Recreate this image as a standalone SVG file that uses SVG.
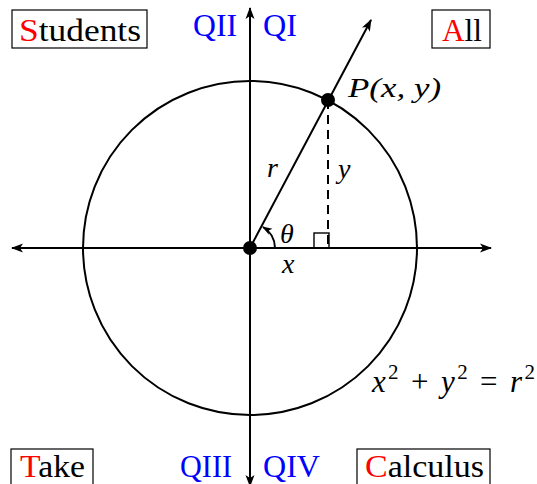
<svg xmlns="http://www.w3.org/2000/svg" width="537" height="484" viewBox="0 0 537 484">
<style>
.ax{stroke:#000;stroke-width:2;fill:none}
.t{font-family:"Liberation Serif","DejaVu Serif",serif;font-size:32px;fill:#000}
.m{font-style:italic;font-size:28px}
.q{fill:#0000ff}
.red{fill:#ff0000}
.box{fill:#fff;stroke:#000;stroke-width:1.2}
</style>
<defs>
<marker id="arr" viewBox="0 0 12 10" refX="11" refY="5" markerWidth="12" markerHeight="10" markerUnits="userSpaceOnUse" orient="auto">
<path d="M0,0.5 L12,5 L0,9.5 L3,5 Z" fill="#000"/>
</marker>
<marker id="arrs" viewBox="0 0 10 8" refX="9" refY="4" markerWidth="10" markerHeight="8" markerUnits="userSpaceOnUse" orient="auto">
<path d="M0,0.5 L10,4 L0,7.5 L2.5,4 Z" fill="#000"/>
</marker>
</defs>
<rect width="537" height="484" fill="#fff"/>
<g id="circle-node">
<circle cx="250" cy="248" r="167" class="ax"/>
</g>
<g id="connectors">
<line x1="250" y1="248" x2="12" y2="248" class="ax" marker-end="url(#arr)"/>
<line x1="250" y1="248" x2="491" y2="248" class="ax" marker-end="url(#arr)"/>
<line x1="250" y1="248" x2="250" y2="8" class="ax" marker-end="url(#arr)"/>
<line x1="250" y1="248" x2="250" y2="486" class="ax" marker-end="url(#arr)"/>
<line x1="250" y1="248" x2="371" y2="20" class="ax" marker-end="url(#arr)"/>
<line x1="328" y1="100" x2="328" y2="248" class="ax" stroke-dasharray="9,6"/>
<path d="M275,248 A25,25 0 0 0 263,227" class="ax" stroke-width="1.6" marker-end="url(#arrs)"/>
<rect x="314" y="233" width="15" height="15" fill="none" stroke="#000" stroke-width="1.4"/>
</g>
<g id="origin"><circle cx="250" cy="248" r="7" fill="#000"/></g>
<g id="point-P"><circle cx="328" cy="100" r="7" fill="#000"/>
<text x="348" y="97" class="t m" textLength="93" lengthAdjust="spacingAndGlyphs">P(x, y)</text></g>
<g id="label-r"><text x="267" y="177" class="t m">r</text></g>
<g id="label-y"><text x="338" y="178" class="t m">y</text></g>
<g id="label-theta"><text x="280" y="243" class="t m">θ</text></g>
<g id="label-x"><text x="282" y="273" class="t m">x</text></g>
<g id="equation"><text x="372" y="392" class="t m" font-size="31" textLength="163" lengthAdjust="spacing" style="font-size:31px">x<tspan dy="-13" font-size="21" font-style="normal" style="font-size:21px">2</tspan><tspan dy="13" font-style="normal"> + </tspan>y<tspan dy="-13" font-style="normal" style="font-size:21px">2</tspan><tspan dy="13" font-style="normal"> = </tspan>r<tspan dy="-13" font-style="normal" style="font-size:21px">2</tspan></text></g>
<g id="QII"><text x="193" y="36" class="t q" textLength="44" lengthAdjust="spacingAndGlyphs">QII</text></g>
<g id="QI"><text x="263" y="36" class="t q" textLength="34" lengthAdjust="spacingAndGlyphs">QI</text></g>
<g id="QIII"><text x="180" y="477" class="t q" textLength="52" lengthAdjust="spacingAndGlyphs">QIII</text></g>
<g id="QIV"><text x="263" y="477" class="t q" textLength="57" lengthAdjust="spacingAndGlyphs">QIV</text></g>
<g id="Students"><rect x="12" y="10" width="135" height="38" class="box"/>
<text x="19" y="41" class="t" textLength="122" lengthAdjust="spacingAndGlyphs"><tspan class="red">S</tspan>tudents</text></g>
<g id="All"><rect x="432" y="10" width="58" height="38" class="box"/>
<text x="442" y="41" class="t" textLength="40" lengthAdjust="spacingAndGlyphs"><tspan class="red">A</tspan>ll</text></g>
<g id="Take"><rect x="11" y="449" width="82" height="40" class="box"/>
<text x="20" y="477" class="t" textLength="65" lengthAdjust="spacingAndGlyphs"><tspan class="red">T</tspan>ake</text></g>
<g id="Calculus"><rect x="357" y="449" width="133" height="40" class="box"/>
<text x="365" y="477" class="t" textLength="119" lengthAdjust="spacingAndGlyphs"><tspan class="red">C</tspan>alculus</text></g>
</svg>
